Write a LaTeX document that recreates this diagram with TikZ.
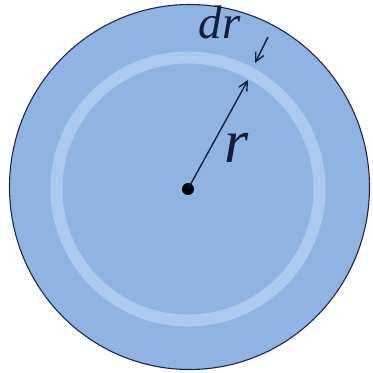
\documentclass[tikz,border=0pt]{standalone}
\usepackage{fontspec}
\setmainfont{Liberation Serif}
\usetikzlibrary{arrows.meta}
\definecolor{diskblue}{RGB}{143,180,227}
\definecolor{ringblue}{RGB}{172,201,240}
\definecolor{edgenavy}{RGB}{30,40,70}
\definecolor{inknavy}{RGB}{20,30,60}
\tikzset{
  radiusarrow/.style={draw=inknavy, line width=1.4pt, -{Straight Barb[length=9pt,width=9pt]}},
  labeltext/.style={text=inknavy, inner sep=0pt, font=\itshape},
}
\begin{document}
\begin{tikzpicture}[x=1pt,y=-1pt]
\useasboundingbox (0,0) rectangle (373,373);
% outer disk
\fill[diskblue] (189.5,187) ellipse [x radius=180, y radius=182.5];
\draw[edgenavy, line width=1.1pt] (189.5,187) ellipse [x radius=180, y radius=182.5];
% ring
\draw[ringblue, line width=12pt] (188,189) circle [radius=131.5];
% center
\coordinate (c) at (188,189);
\node[circle, fill=black, inner sep=0pt, minimum size=12pt] (dot) at (c) {};
\coordinate (inner) at (248,80);
\coordinate (outer) at (255,63);
\coordinate (start) at (268,37);
\draw[radiusarrow] (c) -- (inner);
\draw[radiusarrow] (start) -- (outer);
\node[labeltext, anchor=base west, font=\itshape\fontsize{47}{47}\selectfont] (dr) at (198,38) {d\kern1pt r};
\node[labeltext, anchor=base west, font=\itshape\fontsize{62}{62}\selectfont] (r) at (224,162) {r};
\end{tikzpicture}
\end{document}
